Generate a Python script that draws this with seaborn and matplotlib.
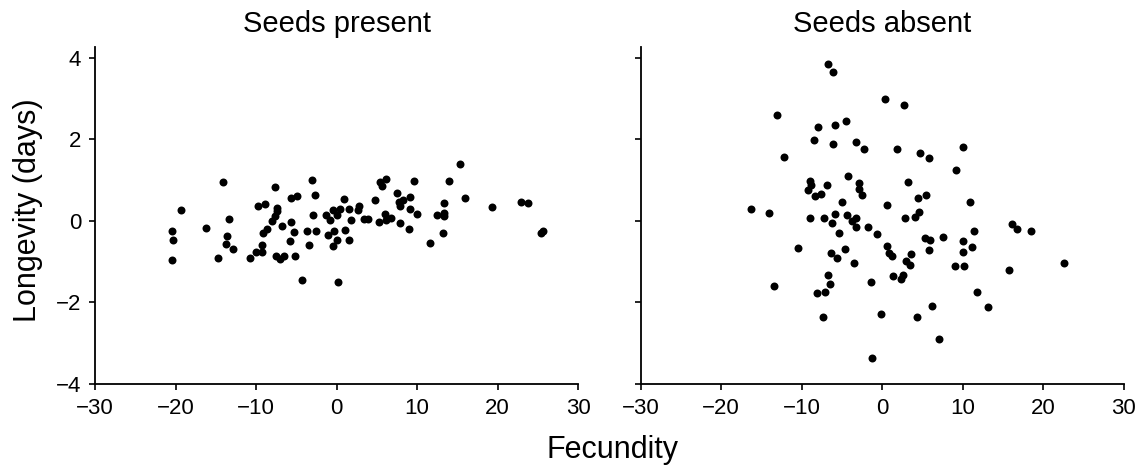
import pandas as pd
import matplotlib
matplotlib.use('Agg')
import matplotlib.pyplot as plt
import seaborn as sns

# Values
present_fecundity = [-20.4, -20.3, -20.4, -19.3, -16.2, -14.7, -14.1, -13.4, -13.6, -13.7,
                     -12.9, -10.8, -10.0, -9.3, -9.2, -9.1, -9.7, -8.9, -8.6, -8.0,
                     -7.6, -7.4, -7.4, -7.6, -7.5, -7.0, -6.5, -6.8, -5.8, -5.6,
                     -5.6, -4.9, -5.3, -5.1, -4.3, -3.7, -3.4, -3.0, -2.9, -2.7,
                     -2.6, -1.3, -1.1, -0.8, -0.5, -0.5, -0.3, 0.05, 0.05, 0.24,
                     0.43, 0.95, 1.05, 1.5, 1.5, 1.85, 2.66, 2.76, 3.4, 3.85,
                     4.8, 5.4, 5.6, 6.2, 5.3, 6.0, 6.2, 6.8, 7.5, 7.7,
                     7.9, 8.2, 7.9, 9.1, 9.1, 9.0, 9.6, 10.0, 11.6, 12.5,
                     13.3, 13.4, 13.2, 14.0, 15.3, 16.0, 19.3, 22.9, 23.8, 25.4,
                     25.6, 13.3]
present_longevity = [-0.24, -0.48, -0.97, 0.27, -0.17, -0.91, 0.94, 0.05, -0.38, -0.57,
                     -0.68, -0.91, -0.77, -0.77, -0.60, -0.29, 0.35, 0.40, -0.20, 0.0,
                     0.11, 0.25, 0.32, 0.82, -0.87, -0.93, -0.87, -0.14, -0.49, -0.03,
                     0.56, 0.61, -0.28, -0.87, -1.46, -0.25, -0.59, 1.0, 0.15, 0.62,
                     -0.24, 0.15, -0.34, 0.02, 0.27, -0.61, -0.25, 0.15, -0.48, -1.51,
                     0.29, 0.54, -0.22, 0.29, -0.47, 0.02, 0.27, 0.35, 0.05, 0.05,
                     0.5, 0.96, 0.86, 1.03, -0.03, 0.17, 0.01, 0.07, 0.68, 0.46,
                     0.37, 0.52, -0.05, 0.59, 0.30, -0.19, 0.98, 0.16, -0.55, 0.15,
                     0.19, 0.44, -0.29, 0.98, 1.38, 0.56, 0.34, 0.46, 0.44, -0.29,
                     -0.24, 0.12]

absent_fecundity = [-6.75, -6.15, 0.38, 2.69, -13.1, -4.5, -5.8, -8.0, -8.5, -6.1,
                    -3.2, -2.3, 1.8, 4.7, 5.8, 10.0, -12.2, 9.2, -4.3, -9.0,
                    -8.9, -9.2, -8.3, -7.6, -6.9, -2.9, -2.9, -2.5, 3.2, -5.0,
                    0.64, 4.5, 5.4, 10.9, -16.3, -14.0, -5.85, -4.4, -3.3, -3.7,
                    -3.2, -9.0, -7.2, -6.2, -5.4, -1.8, -0.6, 2.8, 4.1, 4.6,
                    16.1, 16.8, 18.5, 11.4, 7.5, 5.3, 6.0, 10.1, 11.2, 10.1,
                    5.8, -10.4, -4.6, 0.56, 0.9, 1.2, 3.6, 3.0, 3.5, -6.4,
                    -5.55, -3.5, 9.0, 10.2, 22.6, 15.8, -6.7, -6.5, 1.4, 2.3,
                    2.6, -1.4, -13.4, -8.1, -7.05, 11.75, 6.15, 13.2, -7.35, -0.09,
                    4.36, 7.05, -1.24]
absent_longevity = [3.85, 3.65, 2.99, 2.84, 2.60, 2.45, 2.35, 2.30, 1.99, 1.87,
                    1.93, 1.77, 1.75, 1.67, 1.53, 1.81, 1.57, 1.25, 1.10, 0.97,
                    0.87, 0.76, 0.61, 0.66, 0.88, 0.92, 0.77, 0.62, 0.96, 0.46,
                    0.38, 0.55, 0.63, 0.46, 0.30, 0.19, 0.17, 0.14, 0.07, -0.01,
                    -0.15, 0.07, 0.07, -0.06, -0.29, -0.15, -0.33, 0.07, 0.09, 0.22,
                    -0.07, -0.20, -0.25, -0.25, -0.40, -0.43, -0.47, -0.50, -0.65, -0.76,
                    -0.71, -0.66, -0.69, -0.63, -0.79, -0.87, -0.82, -0.98, -1.08, -0.80,
                    -0.92, -1.04, -1.11, -1.11, -1.03, -1.21, -1.34, -1.56, -1.36, -1.42,
                    -1.32, -1.49, -1.59, -1.78, -1.74, -1.74, -2.08, -2.11, -2.36, -2.29,
                    -2.35, -2.90, -3.36]

panel_titles = ['Seeds present', 'Seeds absent']
x_ticks = [-30, -20, -10, 0, 10, 20, 30]
y_ticks = [-4, -2, 0, 2, 4]

df = pd.concat([
    pd.DataFrame({'Fecundity': present_fecundity, 'Longevity': present_longevity,
                  'panel': panel_titles[0]}),
    pd.DataFrame({'Fecundity': absent_fecundity, 'Longevity': absent_longevity,
                  'panel': panel_titles[1]}),
])

sns.set_style('ticks')
plt.rcParams['font.family'] = ['Liberation Sans', 'DejaVu Sans']
plt.rcParams['text.color'] = 'black'
plt.rcParams['axes.labelcolor'] = 'black'
plt.rcParams['xtick.color'] = 'black'
plt.rcParams['ytick.color'] = 'black'

fig = plt.figure(figsize=(11.41, 4.68), dpi=100)
ax_left = fig.add_axes([0.0833, 0.1795, 0.4233, 0.7194])
ax_right = fig.add_axes([0.5615, 0.1795, 0.4233, 0.7194])

for ax, title in zip([ax_left, ax_right], panel_titles):
    sns.scatterplot(data=df[df['panel'] == title], x='Fecundity', y='Longevity',
                    color='black', s=33, linewidth=0, ax=ax)
    ax.set_xlim(-30, 30)
    ax.set_ylim(-4, 4.25)
    ax.set_xticks(x_ticks)
    ax.set_yticks(y_ticks)
    ax.set_xlabel('')
    ax.set_ylabel('')
    ax.set_title(title, fontsize=21, pad=11, color='black')
    sns.despine(ax=ax)
    for side in ['left', 'bottom']:
        ax.spines[side].set_linewidth(1.3)
        ax.spines[side].set_color('black')
    ax.tick_params(direction='out', length=4, width=1.2, color='black',
                   labelcolor='black', labelsize=16, pad=6)

ax_right.tick_params(axis='y', labelleft=False)

fig.text(0.537, 0.038, 'Fecundity', ha='center', va='center', fontsize=22)
fig.text(0.0245, 0.551, 'Longevity (days)', ha='center', va='center',
         rotation=90, fontsize=22)

fig.savefig('out.png', dpi=100)
